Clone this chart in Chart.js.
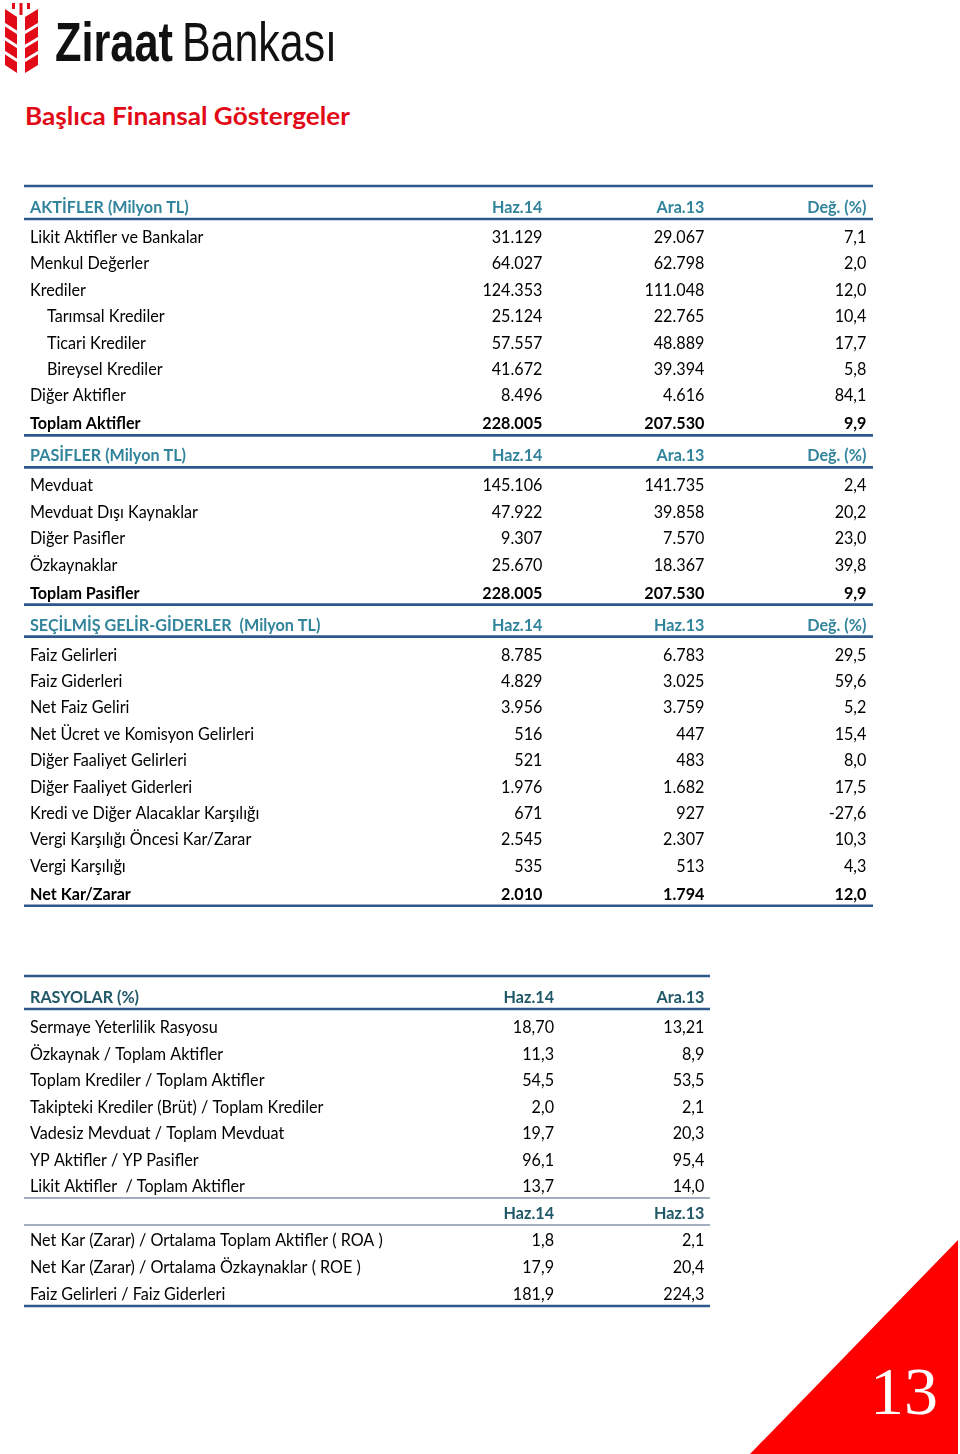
<!DOCTYPE html>
<html lang="tr">
<head>
<meta charset="utf-8">
<title>Başlıca Finansal Göstergeler</title>
<script src="https://cdn.jsdelivr.net/npm/chart.js@4.4.1/dist/chart.umd.min.js"></script>
<style>
  html, body { margin: 0; padding: 0; background: #fff; }
  body { width: 960px; height: 1454px; position: relative; overflow: hidden; font-family: Lato, sans-serif; }
  .kat { position: absolute; left: 0; top: 0; }
  canvas { position: absolute; left: 0; }
</style>
</head>
<body>

<svg class="kat" width="960" height="140">
  <g fill="#E30A17">
    <polygon points="5,9 17,17 17,73 5,65"/>
    <polygon points="38,9 25,17 25,73 38,65"/>
    <rect x="19.5" y="3" width="3" height="12"/>
    <rect x="12" y="3" width="3" height="6"/>
    <rect x="27" y="3" width="3" height="6"/>
  </g>
  <g stroke="#fff" stroke-width="3">
    <line x1="4" y1="24" x2="18" y2="33"/>
    <line x1="4" y1="38" x2="18" y2="47"/>
    <line x1="4" y1="52" x2="18" y2="61"/>
    <line x1="39" y1="24" x2="24" y2="33"/>
    <line x1="39" y1="38" x2="24" y2="47"/>
    <line x1="39" y1="52" x2="24" y2="61"/>
  </g>
  <text x="55" y="61" font-family="Liberation Sans" font-weight="bold" font-size="55" fill="#111" textLength="118" lengthAdjust="spacingAndGlyphs">Ziraat</text>
  <text x="182" y="61" font-family="Liberation Sans" font-size="55" fill="#111" textLength="155" lengthAdjust="spacingAndGlyphs">Bankası</text>
  <text x="25" y="125" font-family="Lato" font-weight="bold" font-size="25" fill="#E30A17" textLength="325" lengthAdjust="spacingAndGlyphs">Başlıca Finansal Göstergeler</text>
</svg>

<canvas id="tablo1" width="960" height="750" style="top:170px;width:960px;height:750px"></canvas>
<canvas id="tablo2" width="960" height="370" style="top:960px;width:960px;height:370px"></canvas>

<svg class="kat" width="960" height="1454" style="pointer-events:none">
  <polygon points="958,1240 958,1454 750,1454" fill="#FF0000"/>
  <text x="938" y="1414" text-anchor="end" font-family="Liberation Serif" font-size="68" fill="#fff">13</text>
</svg>

<script>
// AKTİFLER
let aktifBaslik = ['AKTİFLER (Milyon TL)', 'Haz.14', 'Ara.13', 'Değ. (%)'];
let aktifKalem = ['Likit Aktifler ve Bankalar', 'Menkul Değerler', 'Krediler', 'Tarımsal Krediler', 'Ticari Krediler', 'Bireysel Krediler', 'Diğer Aktifler', 'Toplam Aktifler'];
let aktifHaz14 = [31129, 64027, 124353, 25124, 57557, 41672, 8496, 228005];
let aktifAra13 = [29067, 62798, 111048, 22765, 48889, 39394, 4616, 207530];
let aktifDeg = [7.1, 2.0, 12.0, 10.4, 17.7, 5.8, 84.1, 9.9];
let aktifAlt = [3, 4, 5]; // kredilerin alt kalemleri

// PASİFLER
let pasifBaslik = ['PASİFLER (Milyon TL)', 'Haz.14', 'Ara.13', 'Değ. (%)'];
let pasifKalem = ['Mevduat', 'Mevduat Dışı Kaynaklar', 'Diğer Pasifler', 'Özkaynaklar', 'Toplam Pasifler'];
let pasifHaz14 = [145106, 47922, 9307, 25670, 228005];
let pasifAra13 = [141735, 39858, 7570, 18367, 207530];
let pasifDeg = [2.4, 20.2, 23.0, 39.8, 9.9];

// SEÇİLMİŞ GELİR-GİDERLER
let gelirBaslik = ['SEÇİLMİŞ GELİR-GİDERLER  (Milyon TL)', 'Haz.14', 'Haz.13', 'Değ. (%)'];
let gelirKalem = ['Faiz Gelirleri', 'Faiz Giderleri', 'Net Faiz Geliri', 'Net Ücret ve Komisyon Gelirleri', 'Diğer Faaliyet Gelirleri', 'Diğer Faaliyet Giderleri', 'Kredi ve Diğer Alacaklar Karşılığı', 'Vergi Karşılığı Öncesi Kar/Zarar', 'Vergi Karşılığı', 'Net Kar/Zarar'];
let gelirHaz14 = [8785, 4829, 3956, 516, 521, 1976, 671, 2545, 535, 2010];
let gelirHaz13 = [6783, 3025, 3759, 447, 483, 1682, 927, 2307, 513, 1794];
let gelirDeg = [29.5, 59.6, 5.2, 15.4, 8.0, 17.5, -27.6, 10.3, 4.3, 12.0];

// RASYOLAR
let rasyoBaslik = ['RASYOLAR (%)', 'Haz.14', 'Ara.13'];
let rasyoKalem = ['Sermaye Yeterlilik Rasyosu', 'Özkaynak / Toplam Aktifler', 'Toplam Krediler / Toplam Aktifler', 'Takipteki Krediler (Brüt) / Toplam Krediler', 'Vadesiz Mevduat / Toplam Mevduat', 'YP Aktifler / YP Pasifler', 'Likit Aktifler  / Toplam Aktifler'];
let rasyoHaz14 = [18.70, 11.3, 54.5, 2.0, 19.7, 96.1, 13.7];
let rasyoAra13 = [13.21, 8.9, 53.5, 2.1, 20.3, 95.4, 14.0];
let rasyoOndalik = [2, 1, 1, 1, 1, 1, 1];

let karlilikBaslik = ['', 'Haz.14', 'Haz.13'];
let karlilikKalem = ['Net Kar (Zarar) / Ortalama Toplam Aktifler ( ROA )', 'Net Kar (Zarar) / Ortalama Özkaynaklar ( ROE )', 'Faiz Gelirleri / Faiz Giderleri'];
let karlilikHaz14 = [1.8, 17.9, 181.9];
let karlilikHaz13 = [2.1, 20.4, 224.3];

const ROW_PX = 26.4;     // normal satır aralığı
const HEADER_TOP = 36;   // tuvalin üstünden ilk başlığa
const FONT = 'Lato, sans-serif';
const SIKISTIR = 0.95;   // Calibri'ye yakın genişlik için

let binlik = n => (n < 0 ? '-' : '') + String(Math.abs(n)).replace(/\B(?=(\d{3})+(?!\d))/g, '.');
let ondalik = (n, d) => n.toFixed(d).replace('.', ',');

function bolum(baslik, kalemler, kolonlar, alt, sonToplam) {
    let rows = [{ tur: 'baslik', hucre: baslik }];
    kalemler.forEach((k, i) => {
        let tur = 'satir';
        if (sonToplam && i === kalemler.length - 1) tur = 'toplam';
        else if (alt.includes(i)) tur = 'alt';
        rows.push({ tur: tur, hucre: [k].concat(kolonlar.map(c => c[i])) });
    });
    return rows;
}

function konumlar(rows, aralik) {
    let pos = [0];
    let araSonrasi = false;
    for (let i = 1; i < rows.length; i++) {
        let a = rows[i - 1].tur, b = rows[i].tur;
        if (a === 'araBaslik') araSonrasi = true;
        let px = aralik;
        if (a === 'baslik') px = 30;
        else if (b === 'toplam') px = 28;
        else if (b === 'baslik') px = 32;
        else if (b === 'araBaslik' || araSonrasi) px = 27;
        pos.push(pos[i - 1] + px / ROW_PX);
    }
    return pos;
}

function tabloCiz(rows, basRenk, sonCizgi) {
    return {
        id: 'tabloCiz',
        afterDatasetsDraw(chart) {
            let ctx = chart.ctx;
            let area = chart.chartArea;
            let ys = chart.scales.y;
            let pos = chart.data.datasets[0].data.map(p => p.y);

            let cizgi = (y, kalin) => {
                ctx.save();
                ctx.strokeStyle = kalin ? '#2E578C' : '#8595AB';
                ctx.lineWidth = kalin ? 2.6 : 1.5;
                ctx.beginPath();
                ctx.moveTo(area.left, y);
                ctx.lineTo(area.right, y);
                ctx.stroke();
                ctx.restore();
            };

            rows.forEach((r, i) => {
                let y = ys.getPixelForValue(pos[i]);
                if (i === 0) cizgi(y - 20, true);
                if (r.tur === 'baslik' || r.tur === 'toplam') cizgi(y + 13, true);
                if (r.tur === 'araBaslik') {
                    cizgi(y - 14, false);
                    cizgi(y + 13, false);
                }
                if (sonCizgi && i === rows.length - 1) cizgi(y + 13, true);
            });

            chart.data.datasets.forEach((ds, c) => {
                let meta = chart.getDatasetMeta(c);
                meta.data.forEach((pt, i) => {
                    let r = rows[i];
                    let text = ds.texts[i];
                    if (!text) return;
                    let kalin = r.tur !== 'satir' && r.tur !== 'alt';
                    let x = pt.x;
                    ctx.save();
                    ctx.font = (kalin ? 'bold ' : '') + '17px ' + FONT;
                    ctx.fillStyle = (r.tur === 'baslik' || r.tur === 'araBaslik') ? basRenk : '#000';
                    ctx.textBaseline = 'alphabetic';
                    if (c === 0) {
                        ctx.textAlign = 'left';
                        x += r.tur === 'alt' ? 23 : 6;
                    } else {
                        ctx.textAlign = 'right';
                    }
                    ctx.translate(x, pt.y + 7);
                    ctx.scale(SIKISTIR, 1);
                    ctx.fillText(text, 0, 0);
                    ctx.restore();
                });
            });
        }
    };
}

function tablo(id, rows, colX, xMax, sag, basRenk, sonCizgi, aralik) {
    let canvas = document.getElementById(id);
    let pos = konumlar(rows, aralik);
    let yMin = -HEADER_TOP / ROW_PX;
    let yMax = yMin + canvas.height / ROW_PX;

    let datasets = colX.map((cx, c) => ({
        label: 'kolon' + c,
        data: rows.map((r, i) => ({ x: cx, y: pos[i] })),
        texts: rows.map(r => r.hucre[c] || ''),
        pointRadius: 0
    }));

    return new Chart(canvas.getContext('2d'), {
        type: 'scatter',
        data: { datasets: datasets },
        options: {
            responsive: false,
            animation: false,
            events: [],
            layout: { padding: { left: 24, right: sag, top: 0, bottom: 0 } },
            scales: {
                x: { type: 'linear', display: false, min: 0, max: xMax },
                y: { type: 'linear', display: false, reverse: true, min: yMin, max: yMax }
            },
            plugins: {
                legend: { display: false },
                tooltip: { enabled: false }
            }
        },
        plugins: [tabloCiz(rows, basRenk, sonCizgi)]
    });
}

// birinci tablo
let fmtDeg = arr => arr.map(n => ondalik(n, 1));
let rows1 = []
    .concat(bolum(aktifBaslik, aktifKalem, [aktifHaz14.map(binlik), aktifAra13.map(binlik), fmtDeg(aktifDeg)], aktifAlt, true))
    .concat(bolum(pasifBaslik, pasifKalem, [pasifHaz14.map(binlik), pasifAra13.map(binlik), fmtDeg(pasifDeg)], [], true))
    .concat(bolum(gelirBaslik, gelirKalem, [gelirHaz14.map(binlik), gelirHaz13.map(binlik), fmtDeg(gelirDeg)], [], true));

// 162 px = bir kolon birimi
tablo('tablo1', rows1, [0, 3.2, 4.2, 5.2], 849 / 162, 87, '#31849B', false, 26.4);

// ikinci tablo
let rows2 = bolum(rasyoBaslik, rasyoKalem, [
    rasyoHaz14.map((n, i) => ondalik(n, rasyoOndalik[i])),
    rasyoAra13.map((n, i) => ondalik(n, rasyoOndalik[i]))
], [], false);
rows2.push({ tur: 'araBaslik', hucre: karlilikBaslik });
karlilikKalem.forEach((k, i) => {
    rows2.push({ tur: 'satir', hucre: [k, ondalik(karlilikHaz14[i], 1), ondalik(karlilikHaz13[i], 1)] });
});

tablo('tablo2', rows2, [0, 530 / 162, 4.2], 686 / 162, 250, '#215868', true, 26.5);
</script>
</body>
</html>
